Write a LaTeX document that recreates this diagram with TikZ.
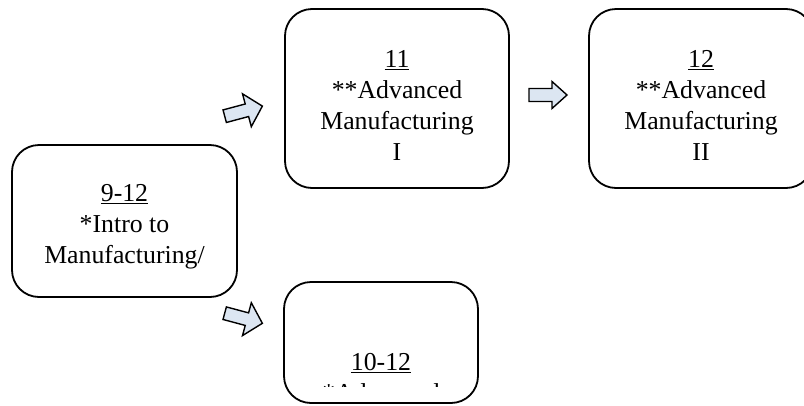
\documentclass[tikz,border=0pt]{standalone}
\usepackage{fontspec}
\setmainfont{Liberation Serif}
\definecolor{arrowblue}{RGB}{220,230,242}
\newcommand{\myul}[1]{\setbox0\hbox{#1}\rlap{\rule[-3pt]{\wd0}{1.3pt}}\box0}
\begin{document}
\begin{tikzpicture}[x=1pt,y=-1pt,
  box/.style={draw=black, line width=1.8pt, rounded corners=27pt, inner sep=0pt},
  txt/.style={align=center, font=\fontsize{25.8pt}{31pt}\selectfont, inner sep=0pt, anchor=base},
  blockarrow/.style={draw=black, fill=arrowblue, line width=1.4pt, line join=miter}]
\useasboundingbox (0,0) rectangle (804,405);
\clip (0,0) rectangle (804,405);
% boxes
\node[box, minimum width=225pt, minimum height=152pt] (intro) at (124.5,221) {};
\node[box, minimum width=224pt, minimum height=179pt] (advI) at (397,98.5) {};
\node[box, minimum width=224pt, minimum height=179pt] (advII) at (701,98.5) {};
\node[box, minimum width=194pt, minimum height=121pt] (adv) at (381,342.5) {};
% texts (anchor = baseline of the last line)
\node[txt] (introtext) at (124.5,263) {\myul{9-12}\\*Intro to\\Manufacturing/};
\node[txt] (advItext) at (397,160) {\myul{11}\\**Advanced\\Manufacturing\\I};
\node[txt] (advIItext) at (701,160) {\myul{12}\\**Advanced\\Manufacturing\\II};
\begin{scope}
\clip (284,282) rectangle (478,386);
\node[txt] (advtext) at (381,401) {\myul{10-12}\\*Advanced};
\end{scope}
% block arrows
\draw[blockarrow, shift={(224.7,116.2)}, rotate=15]
  (0,-6.5) -- (23,-6.5) -- (23,-17) -- (39,0) -- (23,17) -- (23,6.5) -- (0,6.5) -- cycle;
\draw[blockarrow, shift={(224.7,313.2)}, rotate=-15]
  (0,-6.5) -- (23,-6.5) -- (23,-17) -- (39,0) -- (23,17) -- (23,6.5) -- (0,6.5) -- cycle;
\draw[blockarrow, shift={(529,95)}]
  (0,-6.5) -- (23,-6.5) -- (23,-13.5) -- (38,0) -- (23,13.5) -- (23,6.5) -- (0,6.5) -- cycle;
\end{tikzpicture}
\end{document}
